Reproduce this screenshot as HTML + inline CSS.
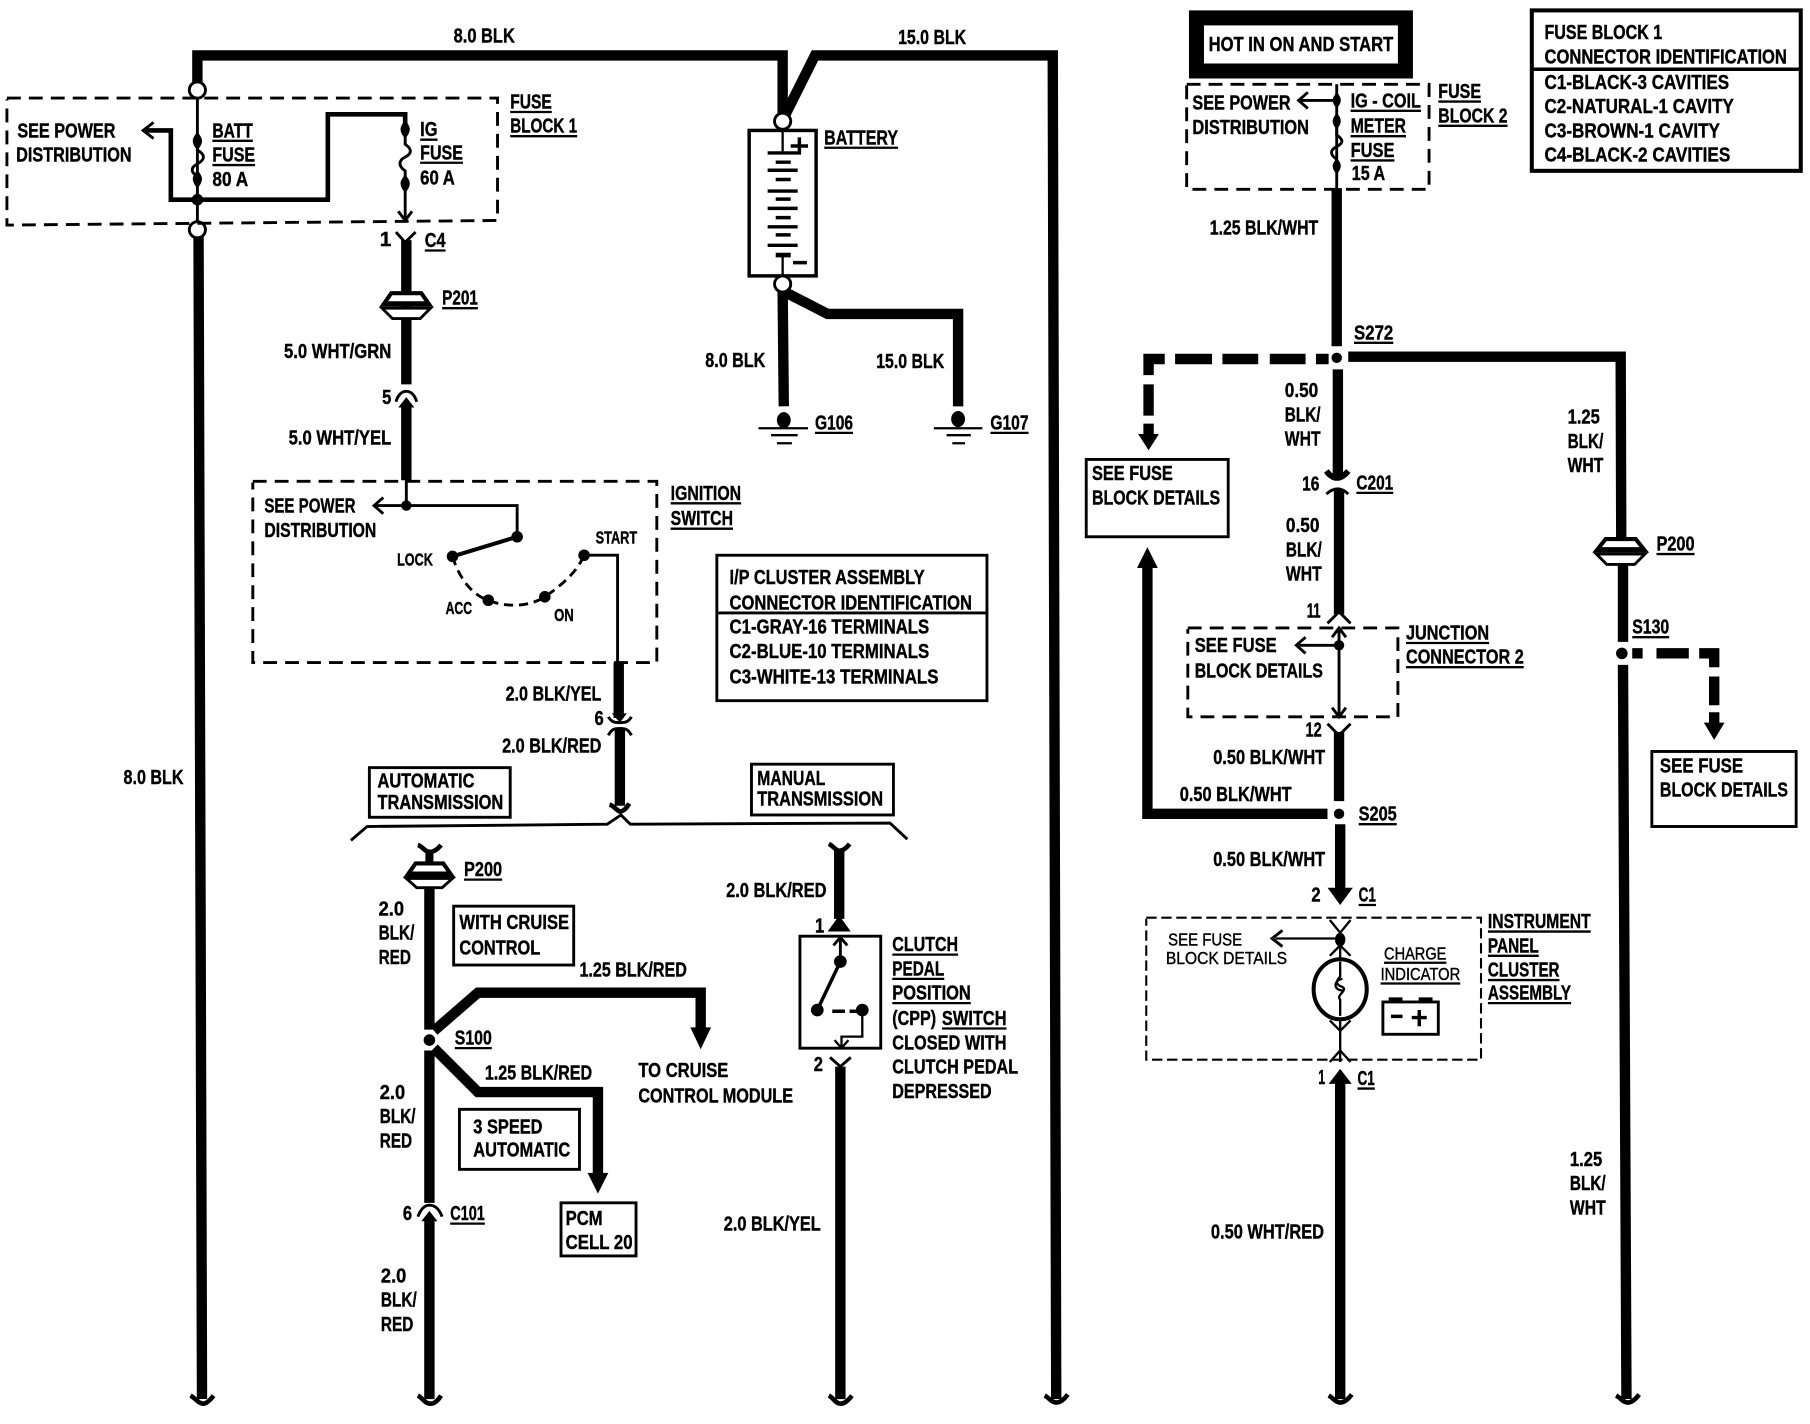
<!DOCTYPE html>
<html><head><meta charset="utf-8"><title>Charging system wiring diagram</title>
<style>
html,body{margin:0;padding:0;background:#fff}
svg{display:block}
text{font-family:"Liberation Sans",sans-serif;font-weight:bold;font-size:18px;fill:#000;stroke:#000;stroke-width:.35}
.w{fill:none;stroke:#000;stroke-width:9}
.n{fill:none;stroke:#000;stroke-width:2.5}
.m{fill:none;stroke:#000;stroke-width:2}
.b{fill:#fff;stroke:#000;stroke-width:2.5}
.d{fill:none;stroke:#000;stroke-width:2.5;stroke-dasharray:12 7}
.k{fill:#000;stroke:none}
.c{fill:#fff;stroke:#000;stroke-width:2.5}
.p1{fill:#fff;stroke:#000;stroke-width:3.5}
.p2{fill:#fff;stroke:#000;stroke-width:2.5}
</style></head><body>
<svg width="1810" height="1424" viewBox="0 0 1568 1233.6" preserveAspectRatio="none" xmlns="http://www.w3.org/2000/svg">
<rect x="0" y="0" width="1568" height="1234" fill="#fff"/>

<!-- wires left -->
<path class="w" d="M171 76V48H678V100"/>
<path class="w" d="M679 102L706 48H912L915 1212"/>
<path class="w" d="M172 205L175 1212"/>
<path class="n" d="M171 85V192"/>
<path class="k" d="M171 114c3 4 4 6 4 8s-1 5-4 8c-3-3-4-6-4-8s1-4 4-8zM171 147c3 4 4 6 4 8s-1 5-4 8c-3-3-4-6-4-8s1-4 4-8z"/>
<path class="n" d="M171 122v8c7 4 7 8 0 12c-6 3-6 7 0 11"/>
<circle class="k" cx="171" cy="173" r="5"/>
<path style="fill:none;stroke:#000;stroke-width:4" d="M171 173H148V113H126M171 173H284V99H351V112"/>
<path class="n" d="M133 106L124 113L133 120"/>
<path class="n" d="M351 112v13c6 4 6 8 0 11c-6 3-6 8 0 12v42"/>
<path class="k" d="M351 104c3 4 4 6 4 8s-1 5-4 8c-3-3-4-6-4-8s1-4 4-8zM351 151c3 4 4 6 4 8s-1 5-4 8c-3-3-4-6-4-8s1-4 4-8z"/>
<path class="n" d="M345 183L351 191L357 183"/>
<circle class="c" cx="171" cy="78" r="7"/>
<circle class="c" cx="171" cy="199" r="7"/>
<path class="d" d="M6 85H431V191L6 195V86"/>
<!-- C4 / P201 -->
<path class="n" d="M343 201L351 210L360 201"/>
<path class="w" d="M352 208V333M352 351V416"/>
<g transform="translate(352 265)"><path class="p1" d="M-13 -11H13L20 -1H-20Z"/><path class="k" d="M-18 -4H18V0H-18Z"/><path class="p2" d="M-21 2H21L12 11H-12Z"/></g>
<path class="n" d="M343 348C345 341 349 339 352 339C355 339 359 341 361 348"/>
<path class="k" d="M352 344L359 353H345Z"/>
<!-- ignition -->
<path class="d" d="M219 417H569V574H219V418"/>
<path class="n" d="M352 415V438H448V465M352 438H325"/>
<circle class="k" cx="352" cy="438" r="4.5"/>
<path class="n" d="M332 431L324 438L332 445"/>
<path style="fill:none;stroke:#000;stroke-width:3.5" d="M448 465L392 482"/>
<circle class="k" cx="448" cy="465" r="5"/>
<circle class="k" cx="392" cy="482" r="5"/>
<circle class="k" cx="423" cy="520" r="5"/>
<circle class="k" cx="472" cy="517" r="5"/>
<circle class="k" cx="506" cy="481" r="5"/>
<path class="n" style="stroke-dasharray:8 5" d="M392 482C398 502 410 516 423 520C440 527 460 525 472 517C488 506 500 495 506 481"/>
<path class="n" d="M506 481H535V574"/>
<path class="w" d="M536 574V622M537 632V698"/>
<path class="k" d="M530 618H543L537 626Z"/>
<path class="n" d="M527 621C530 626 533 626 537 626C541 626 544 626 547 621M527 637C530 631 533 631 537 631C541 631 544 631 547 637"/>
<path class="n" style="stroke-width:4" d="M528 697C532 698 534 702 537 703C540 703 543 700 545 696"/>
<path class="n" d="M304 728L318 716L526 714L538 706L546 714L771 713L786 727"/>
<!-- boxes -->
<rect class="b" x="621" y="481" width="234" height="126"/>
<path class="n" d="M621 531H855"/>
<rect class="b" x="320" y="665" width="122" height="43"/>
<rect class="b" x="651" y="662" width="123" height="44"/>
<rect class="b" x="393" y="785" width="104" height="51"/>
<rect class="b" x="398" y="961" width="104" height="52"/>
<rect class="b" x="486" y="1042" width="65" height="46"/>
<rect class="b" x="941" y="398" width="123" height="67"/>
<rect class="b" x="1431" y="651" width="125" height="65"/>
<!-- P200 left lower -->
<path class="w" d="M372 770V892M372 910V1042M372 1056V1212"/>
<path class="w" style="stroke-width:7" d="M372 736V752"/>
<path class="n" style="stroke-width:4" d="M362 732C366 733 368 738 372 738C376 738 379 736 382 732"/>
<g transform="translate(372 759)"><path class="p1" d="M-12 -11H12L19 -1H-19Z"/><path class="k" d="M-17 -4H17V0H-17Z"/><path class="p2" d="M-20 2H20L11 10H-11Z"/></g>
<circle class="c" cx="372" cy="901" r="7" style="stroke:none"/>
<circle class="k" cx="372" cy="901" r="5"/>
<path class="w" d="M376 893L414 860H607V892"/>
<path class="k" d="M598 890H616L607 909Z"/>
<path class="w" d="M376 908L414 946H518V1018"/>
<path class="k" d="M509 1016H527L518 1034Z"/>
<path class="n" d="M362 1054C365 1046 369 1044 372 1044C376 1044 380 1046 383 1054"/>
<path class="k" d="M372 1049L379 1058H365Z"/>
<!-- Manual -->
<path class="w" d="M727 736V796M728 924V1212"/>
<path class="n" style="stroke-width:4" d="M718 731C722 733 724 737 727 737C730 737 733 735 736 731"/>
<path class="k" d="M727 793L737 807H717Z"/>
<path class="n" d="M719 916L728 924L737 916"/>
<path class="n" d="M693 811H763V908H693Z"/>
<path class="n" d="M728 811V833M722 819L728 812L734 819"/>
<circle class="k" cx="728" cy="833" r="5.500"/>
<circle class="k" cx="708" cy="875" r="5.500"/>
<circle class="k" cx="747" cy="875" r="5.500"/>
<path style="fill:none;stroke:#000;stroke-width:3" d="M728 833L708 875M721 876H732M736 876H743"/>
<path class="m" d="M747 875V898H729V908M723 901L729 908L735 901"/>
<!-- Battery -->
<rect class="b" style="stroke-width:3" x="649" y="113" width="58" height="126"/>
<circle class="c" cx="678" cy="105" r="7"/>
<circle class="c" cx="678" cy="246" r="7"/>
<path class="m" d="M678 113V132M678 222V239"/>
<path class="k" d="M665 131h26v3h-26zM672 139h13v3h-13zM665 146h26v3h-26zM672 154h13v3h-13zM665 164h26v3h-26zM672 171h13v3h-13zM665 179h26v3h-26zM672 187h13v3h-13zM665 195h26v3h-26zM672 202h13v3h-13zM665 211h26v3h-26zM672 219h13v4h-13zM691 119h3v6h6v3h-6v6h-3v-6h-6v-3h6zM687 226h12v3h-12z"/>
<path class="w" d="M678 252L679 352"/>
<path class="w" d="M682 254L717 272H830V352"/>
<ellipse class="k" cx="679" cy="364" rx="6" ry="7"/>
<ellipse class="k" cx="830" cy="363" rx="6" ry="7"/>
<path class="m" d="M657 371H700M668 377H691M673 384H686M809 371H851M820 377H841M825 384H836"/>

<!-- right side -->
<rect class="k" x="1030" y="9" width="194" height="59"/>
<rect x="1043" y="22" width="168" height="33" fill="#fff"/>
<rect class="b" style="stroke-width:3.5" x="1327" y="9" width="233" height="139"/>
<path class="n" style="stroke-width:3" d="M1327 60H1560"/>
<path class="d" d="M1028 73H1238V164H1028V74"/>
<path class="n" d="M1158 73V163M1158 87H1127"/>
<path class="k" d="M1158 80c3 3 3.500 5 3.500 7s-1 4-3.500 7c-2.500-3-3.500-5-3.500-7s1-4 3.500-7zM1158 98c3 3 3.500 5 3.500 7s-1 4-3.500 7c-2.500-3-3.500-5-3.500-7s1-4 3.500-7zM1158 137c3 3 3.500 5 3.500 7s-1 4-3.500 7c-2.500-3-3.500-5-3.500-7s1-4 3.500-7z"/>
<path class="c" style="fill:none" d="M1158 105v12c6 4 6 7 0 10c-6 3-6 7 0 11"/>
<path class="n" d="M1133 80L1125 87L1133 94"/>
<path class="w" d="M1158 163V300M1159 320V413M1160 424V532M1160 634V694M1161 714V770M1161 934V1212"/>
<circle class="k" cx="1158" cy="310" r="4.500"/>
<path class="w" d="M1168 309H1404L1404.500 472M1406 484V556M1406 576L1409 1212"/>
<g transform="translate(1404 478)"><path class="p1" d="M-13 -11H13L21 -1H-21Z"/><path class="k" d="M-19 -4H19V0H-19Z"/><path class="p2" d="M-21 2H21L12 11H-12Z"/></g>
<path class="w" d="M1018 311H1050M1059 311H1090M1100 311H1131M1140 311H1151M1009 311H995V325M995 333V360M995 367V378"/>
<path class="k" d="M986 376H1004L995 390Z"/>
<path style="fill:none;stroke:#000;stroke-width:5" d="M1149 408Q1158 420 1168 408"/>
<path class="n" d="M1149 428Q1159 419 1168 428"/>
<path class="n" d="M1150 540L1160 530L1170 540M1150 627L1160 637L1170 627"/>
<path class="d" d="M1029 544H1211V621H1029V545"/>
<path class="n" d="M1160 545V620M1160 559H1125"/>
<circle class="k" cx="1160" cy="559" r="4.500"/>
<path class="n" d="M1154 552L1160 544L1166 552M1154 613L1160 621L1166 613M1131 552L1123 559L1131 566"/>
<path class="w" d="M1150 705H994V490"/>
<path class="k" d="M985 492H1003L994 474Z"/>
<circle class="k" cx="1160" cy="705" r="4.500"/>
<path class="k" d="M1150 769H1172L1161 784Z"/>
<path class="d" style="stroke-width:1.8;stroke-dasharray:9 4" d="M993 795H1283V918H993V796"/>
<path class="m" d="M1152 797L1161 808L1170 797M1161 808V830M1161 813H1105M1152 828L1161 819L1170 828M1161 884V920M1152 884L1161 893L1170 884M1152 920L1161 910L1170 920"/>
<path class="n" d="M1111 806L1102 813L1111 820"/>
<ellipse cx="1161" cy="814" rx="4.500" ry="6" class="k"/>
<ellipse cx="1161" cy="857" rx="23" ry="26" fill="none" stroke="#000" stroke-width="3.500"/>
<path class="m" d="M1161 833V846C1157 850 1157 853 1163 855C1168 858 1157 862 1161 866V880"/>
<path class="m" d="M1163 848C1155 849 1155 858 1163 858"/>
<rect x="1198" y="868" width="48" height="28" fill="#fff" stroke="#000" stroke-width="2.500"/>
<path class="k" d="M1203 864h12v4h-12zM1229 864h12v4h-12zM1205 879h10v3h-10zM1228 875h3v5h5v3h-5v6h-3v-6h-5v-3h5z"/>
<path class="k" d="M1161 926L1171 939H1151Z"/>
<circle class="k" cx="1405" cy="566" r="5"/>
<path class="w" d="M1414 566H1423M1435 566H1463M1472 566H1485V578M1485 586V611M1485 617V630"/>
<path class="k" d="M1476 626H1494L1485 641Z"/>

<!-- Wire ends -->
<path class="n" style="stroke-width:4" d="M165 1209C169 1211 172 1216 176 1216C179 1216 182 1213 185 1209M362 1209C366 1211 368 1216 373 1216C376 1216 379 1214 382 1209M718 1209C722 1211 724 1216 728 1216C732 1216 735 1213 738 1209M905 1209C909 1211 911 1215 915 1215C919 1215 922 1212 925 1208M1151 1209C1155 1211 1157 1215 1161 1215C1165 1215 1168 1212 1171 1208M1400 1209C1404 1211 1406 1215 1410 1215C1414 1215 1417 1212 1420 1208"/>

<!-- Underlines -->
<path fill="none" stroke="#000" stroke-width="2" d="M442 97h36M442 118h58M184 122h35M184 143h37M364 121h15M364 141h37M368 217h18M383 267h31M714 128h64M706 375h33M858 375h33M581 436h61M581 458h54M402 762h33M394 908h32M390 1060h30M773 827h57M773 848h45M773 869h68M816 891h56M1170 96h61M1170 118h48M1170 139h38M1246 88h37M1246 109h60M1173 297h34M1175 427h32M1435 480h33M1218 557h72M1218 578h102M1414 552h32M1177 714h33M1177 784h15M1199 834h54M1196 852h69M1289 807h89M1289 828h44M1289 849h62M1289 869h72M1176 943h15"/>

<!-- Text -->
<g>
<text x="393" y="37" textLength="53" lengthAdjust="spacingAndGlyphs">8.0 BLK</text>
<text x="778" y="38" textLength="59" lengthAdjust="spacingAndGlyphs">15.0 BLK</text>
<text x="442" y="94" textLength="36" lengthAdjust="spacingAndGlyphs">FUSE</text>
<text x="442" y="115" textLength="58" lengthAdjust="spacingAndGlyphs">BLOCK 1</text>
<text x="15" y="119" textLength="85" lengthAdjust="spacingAndGlyphs">SEE POWER</text>
<text x="14" y="140" textLength="100" lengthAdjust="spacingAndGlyphs">DISTRIBUTION</text>
<text x="184" y="119" textLength="35" lengthAdjust="spacingAndGlyphs">BATT</text>
<text x="184" y="140" textLength="37" lengthAdjust="spacingAndGlyphs">FUSE</text>
<text x="184" y="161" textLength="31" lengthAdjust="spacingAndGlyphs">80 A</text>
<text x="364" y="118" textLength="15" lengthAdjust="spacingAndGlyphs">IG</text>
<text x="364" y="138" textLength="37" lengthAdjust="spacingAndGlyphs">FUSE</text>
<text x="364" y="160" textLength="30" lengthAdjust="spacingAndGlyphs">60 A</text>
<text x="329" y="213">1</text>
<text x="368" y="214" textLength="18" lengthAdjust="spacingAndGlyphs">C4</text>
<text x="383" y="264" textLength="31" lengthAdjust="spacingAndGlyphs">P201</text>
<text x="246" y="310" textLength="93" lengthAdjust="spacingAndGlyphs">5.0 WHT/GRN</text>
<text x="331" y="350" textLength="8" lengthAdjust="spacingAndGlyphs">5</text>
<text x="250" y="385" textLength="89" lengthAdjust="spacingAndGlyphs">5.0 WHT/YEL</text>
<text x="714" y="125" textLength="64" lengthAdjust="spacingAndGlyphs">BATTERY</text>
<text x="611" y="318" textLength="52" lengthAdjust="spacingAndGlyphs">8.0 BLK</text>
<text x="759" y="319" textLength="59" lengthAdjust="spacingAndGlyphs">15.0 BLK</text>
<text x="706" y="372" textLength="33" lengthAdjust="spacingAndGlyphs">G106</text>
<text x="858" y="372" textLength="33" lengthAdjust="spacingAndGlyphs">G107</text>
<text x="581" y="433" textLength="61" lengthAdjust="spacingAndGlyphs">IGNITION</text>
<text x="581" y="455" textLength="54" lengthAdjust="spacingAndGlyphs">SWITCH</text>
<text x="229" y="444" textLength="79" lengthAdjust="spacingAndGlyphs">SEE POWER</text>
<text x="229" y="465" textLength="97" lengthAdjust="spacingAndGlyphs">DISTRIBUTION</text>
<text x="344" y="490" textLength="31" lengthAdjust="spacingAndGlyphs" style="font-size:15px">LOCK</text>
<text x="516" y="471" textLength="36" lengthAdjust="spacingAndGlyphs" style="font-size:15px">START</text>
<text x="386" y="532" textLength="23" lengthAdjust="spacingAndGlyphs" style="font-size:15px">ACC</text>
<text x="480" y="538" textLength="17" lengthAdjust="spacingAndGlyphs" style="font-size:15px">ON</text>
<text x="632" y="506" textLength="169" lengthAdjust="spacingAndGlyphs">I/P CLUSTER ASSEMBLY</text>
<text x="632" y="528" textLength="210" lengthAdjust="spacingAndGlyphs">CONNECTOR IDENTIFICATION</text>
<text x="632" y="549" textLength="173" lengthAdjust="spacingAndGlyphs">C1-GRAY-16 TERMINALS</text>
<text x="632" y="570" textLength="173" lengthAdjust="spacingAndGlyphs">C2-BLUE-10 TERMINALS</text>
<text x="632" y="592" textLength="181" lengthAdjust="spacingAndGlyphs">C3-WHITE-13 TERMINALS</text>
<text x="438" y="607" textLength="83" lengthAdjust="spacingAndGlyphs">2.0 BLK/YEL</text>
<text x="515" y="628" textLength="8" lengthAdjust="spacingAndGlyphs">6</text>
<text x="435" y="652" textLength="86" lengthAdjust="spacingAndGlyphs">2.0 BLK/RED</text>
<text x="327" y="682" textLength="84" lengthAdjust="spacingAndGlyphs">AUTOMATIC</text>
<text x="327" y="701" textLength="109" lengthAdjust="spacingAndGlyphs">TRANSMISSION</text>
<text x="656" y="680" textLength="59" lengthAdjust="spacingAndGlyphs">MANUAL</text>
<text x="656" y="698" textLength="109" lengthAdjust="spacingAndGlyphs">TRANSMISSION</text>
<text x="107" y="679" textLength="52" lengthAdjust="spacingAndGlyphs">8.0 BLK</text>
<text x="402" y="759" textLength="33" lengthAdjust="spacingAndGlyphs">P200</text>
<text x="328" y="793" textLength="22" lengthAdjust="spacingAndGlyphs">2.0</text>
<text x="328" y="814" textLength="31" lengthAdjust="spacingAndGlyphs">BLK/</text>
<text x="328" y="835" textLength="28" lengthAdjust="spacingAndGlyphs">RED</text>
<text x="398" y="805" textLength="95" lengthAdjust="spacingAndGlyphs">WITH CRUISE</text>
<text x="398" y="827" textLength="70" lengthAdjust="spacingAndGlyphs">CONTROL</text>
<text x="502" y="846" textLength="93" lengthAdjust="spacingAndGlyphs">1.25 BLK/RED</text>
<text x="394" y="905" textLength="32" lengthAdjust="spacingAndGlyphs">S100</text>
<text x="329" y="952" textLength="22" lengthAdjust="spacingAndGlyphs">2.0</text>
<text x="329" y="973" textLength="31" lengthAdjust="spacingAndGlyphs">BLK/</text>
<text x="329" y="994" textLength="28" lengthAdjust="spacingAndGlyphs">RED</text>
<text x="420" y="935" textLength="93" lengthAdjust="spacingAndGlyphs">1.25 BLK/RED</text>
<text x="410" y="982" textLength="60" lengthAdjust="spacingAndGlyphs">3 SPEED</text>
<text x="410" y="1002" textLength="84" lengthAdjust="spacingAndGlyphs">AUTOMATIC</text>
<text x="553" y="933" textLength="78" lengthAdjust="spacingAndGlyphs">TO CRUISE</text>
<text x="553" y="955" textLength="134" lengthAdjust="spacingAndGlyphs">CONTROL MODULE</text>
<text x="490" y="1061" textLength="32" lengthAdjust="spacingAndGlyphs">PCM</text>
<text x="490" y="1082" textLength="58" lengthAdjust="spacingAndGlyphs">CELL 20</text>
<text x="349" y="1057" textLength="8" lengthAdjust="spacingAndGlyphs">6</text>
<text x="390" y="1057" textLength="30" lengthAdjust="spacingAndGlyphs">C101</text>
<text x="330" y="1111" textLength="22" lengthAdjust="spacingAndGlyphs">2.0</text>
<text x="330" y="1132" textLength="31" lengthAdjust="spacingAndGlyphs">BLK/</text>
<text x="330" y="1153" textLength="28" lengthAdjust="spacingAndGlyphs">RED</text>
<text x="629" y="777" textLength="87" lengthAdjust="spacingAndGlyphs">2.0 BLK/RED</text>
<text x="706" y="808" textLength="8" lengthAdjust="spacingAndGlyphs">1</text>
<text x="705" y="928" textLength="8" lengthAdjust="spacingAndGlyphs">2</text>
<text x="773" y="824" textLength="57" lengthAdjust="spacingAndGlyphs">CLUTCH</text>
<text x="773" y="845" textLength="45" lengthAdjust="spacingAndGlyphs">PEDAL</text>
<text x="773" y="866" textLength="68" lengthAdjust="spacingAndGlyphs">POSITION</text>
<text x="773" y="888" textLength="38" lengthAdjust="spacingAndGlyphs">(CPP)</text>
<text x="816" y="888" textLength="56" lengthAdjust="spacingAndGlyphs">SWITCH</text>
<text x="773" y="909" textLength="99" lengthAdjust="spacingAndGlyphs">CLOSED WITH</text>
<text x="773" y="930" textLength="109" lengthAdjust="spacingAndGlyphs">CLUTCH PEDAL</text>
<text x="773" y="951" textLength="86" lengthAdjust="spacingAndGlyphs">DEPRESSED</text>
<text x="627" y="1066" textLength="84" lengthAdjust="spacingAndGlyphs">2.0 BLK/YEL</text>

<text x="1047" y="44" textLength="160" lengthAdjust="spacingAndGlyphs">HOT IN ON AND START</text>
<text x="1033" y="95" textLength="85" lengthAdjust="spacingAndGlyphs">SEE POWER</text>
<text x="1033" y="116" textLength="101" lengthAdjust="spacingAndGlyphs">DISTRIBUTION</text>
<text x="1170" y="93" textLength="61" lengthAdjust="spacingAndGlyphs">IG - COIL</text>
<text x="1170" y="115" textLength="48" lengthAdjust="spacingAndGlyphs">METER</text>
<text x="1170" y="136" textLength="38" lengthAdjust="spacingAndGlyphs">FUSE</text>
<text x="1171" y="156" textLength="29" lengthAdjust="spacingAndGlyphs">15 A</text>
<text x="1246" y="85" textLength="37" lengthAdjust="spacingAndGlyphs">FUSE</text>
<text x="1246" y="106" textLength="60" lengthAdjust="spacingAndGlyphs">BLOCK 2</text>
<text x="1338" y="34" textLength="102" lengthAdjust="spacingAndGlyphs">FUSE BLOCK 1</text>
<text x="1338" y="55" textLength="210" lengthAdjust="spacingAndGlyphs">CONNECTOR IDENTIFICATION</text>
<text x="1338" y="77" textLength="160" lengthAdjust="spacingAndGlyphs">C1-BLACK-3 CAVITIES</text>
<text x="1338" y="98" textLength="164" lengthAdjust="spacingAndGlyphs">C2-NATURAL-1 CAVITY</text>
<text x="1338" y="119" textLength="152" lengthAdjust="spacingAndGlyphs">C3-BROWN-1 CAVITY</text>
<text x="1338" y="140" textLength="161" lengthAdjust="spacingAndGlyphs">C4-BLACK-2 CAVITIES</text>
<text x="1048" y="203" textLength="94" lengthAdjust="spacingAndGlyphs">1.25 BLK/WHT</text>
<text x="1173" y="294" textLength="34" lengthAdjust="spacingAndGlyphs">S272</text>
<text x="1113" y="344" textLength="29" lengthAdjust="spacingAndGlyphs">0.50</text>
<text x="1113" y="365" textLength="31" lengthAdjust="spacingAndGlyphs">BLK/</text>
<text x="1113" y="386" textLength="31" lengthAdjust="spacingAndGlyphs">WHT</text>
<text x="1358" y="367" textLength="28" lengthAdjust="spacingAndGlyphs">1.25</text>
<text x="1358" y="388" textLength="31" lengthAdjust="spacingAndGlyphs">BLK/</text>
<text x="1358" y="409" textLength="31" lengthAdjust="spacingAndGlyphs">WHT</text>
<text x="946" y="416" textLength="70" lengthAdjust="spacingAndGlyphs">SEE FUSE</text>
<text x="946" y="437" textLength="111" lengthAdjust="spacingAndGlyphs">BLOCK DETAILS</text>
<text x="1128" y="425" textLength="15" lengthAdjust="spacingAndGlyphs">16</text>
<text x="1175" y="424" textLength="32" lengthAdjust="spacingAndGlyphs">C201</text>
<text x="1114" y="461" textLength="29" lengthAdjust="spacingAndGlyphs">0.50</text>
<text x="1114" y="482" textLength="31" lengthAdjust="spacingAndGlyphs">BLK/</text>
<text x="1114" y="503" textLength="31" lengthAdjust="spacingAndGlyphs">WHT</text>
<text x="1435" y="477" textLength="33" lengthAdjust="spacingAndGlyphs">P200</text>
<text x="1132" y="535" textLength="12" lengthAdjust="spacingAndGlyphs">11</text>
<text x="1035" y="565" textLength="71" lengthAdjust="spacingAndGlyphs">SEE FUSE</text>
<text x="1035" y="587" textLength="111" lengthAdjust="spacingAndGlyphs">BLOCK DETAILS</text>
<text x="1218" y="554" textLength="72" lengthAdjust="spacingAndGlyphs">JUNCTION</text>
<text x="1218" y="575" textLength="102" lengthAdjust="spacingAndGlyphs">CONNECTOR 2</text>
<text x="1414" y="549" textLength="32" lengthAdjust="spacingAndGlyphs">S130</text>
<text x="1131" y="638" textLength="14" lengthAdjust="spacingAndGlyphs">12</text>
<text x="1051" y="662" textLength="97" lengthAdjust="spacingAndGlyphs">0.50 BLK/WHT</text>
<text x="1022" y="694" textLength="97" lengthAdjust="spacingAndGlyphs">0.50 BLK/WHT</text>
<text x="1177" y="711" textLength="33" lengthAdjust="spacingAndGlyphs">S205</text>
<text x="1051" y="750" textLength="97" lengthAdjust="spacingAndGlyphs">0.50 BLK/WHT</text>
<text x="1438" y="669" textLength="72" lengthAdjust="spacingAndGlyphs">SEE FUSE</text>
<text x="1438" y="690" textLength="111" lengthAdjust="spacingAndGlyphs">BLOCK DETAILS</text>
<text x="1136" y="781" textLength="8" lengthAdjust="spacingAndGlyphs">2</text>
<text x="1177" y="781" textLength="15" lengthAdjust="spacingAndGlyphs">C1</text>
<text x="1012" y="819" textLength="64" lengthAdjust="spacingAndGlyphs" style="font-size:15px;font-weight:normal">SEE FUSE</text>
<text x="1010" y="835" textLength="105" lengthAdjust="spacingAndGlyphs" style="font-size:15px;font-weight:normal">BLOCK DETAILS</text>
<text x="1199" y="831" textLength="54" lengthAdjust="spacingAndGlyphs" style="font-size:15px;font-weight:normal">CHARGE</text>
<text x="1196" y="849" textLength="69" lengthAdjust="spacingAndGlyphs" style="font-size:15px;font-weight:normal">INDICATOR</text>
<text x="1289" y="804" textLength="89" lengthAdjust="spacingAndGlyphs">INSTRUMENT</text>
<text x="1289" y="825" textLength="44" lengthAdjust="spacingAndGlyphs">PANEL</text>
<text x="1289" y="846" textLength="62" lengthAdjust="spacingAndGlyphs">CLUSTER</text>
<text x="1289" y="866" textLength="72" lengthAdjust="spacingAndGlyphs">ASSEMBLY</text>
<text x="1142" y="939" textLength="6" lengthAdjust="spacingAndGlyphs">1</text>
<text x="1176" y="940" textLength="15" lengthAdjust="spacingAndGlyphs">C1</text>
<text x="1049" y="1073" textLength="98" lengthAdjust="spacingAndGlyphs">0.50 WHT/RED</text>
<text x="1360" y="1010" textLength="28" lengthAdjust="spacingAndGlyphs">1.25</text>
<text x="1360" y="1031" textLength="31" lengthAdjust="spacingAndGlyphs">BLK/</text>
<text x="1360" y="1052" textLength="31" lengthAdjust="spacingAndGlyphs">WHT</text>
</g>
</svg>
</body></html>
